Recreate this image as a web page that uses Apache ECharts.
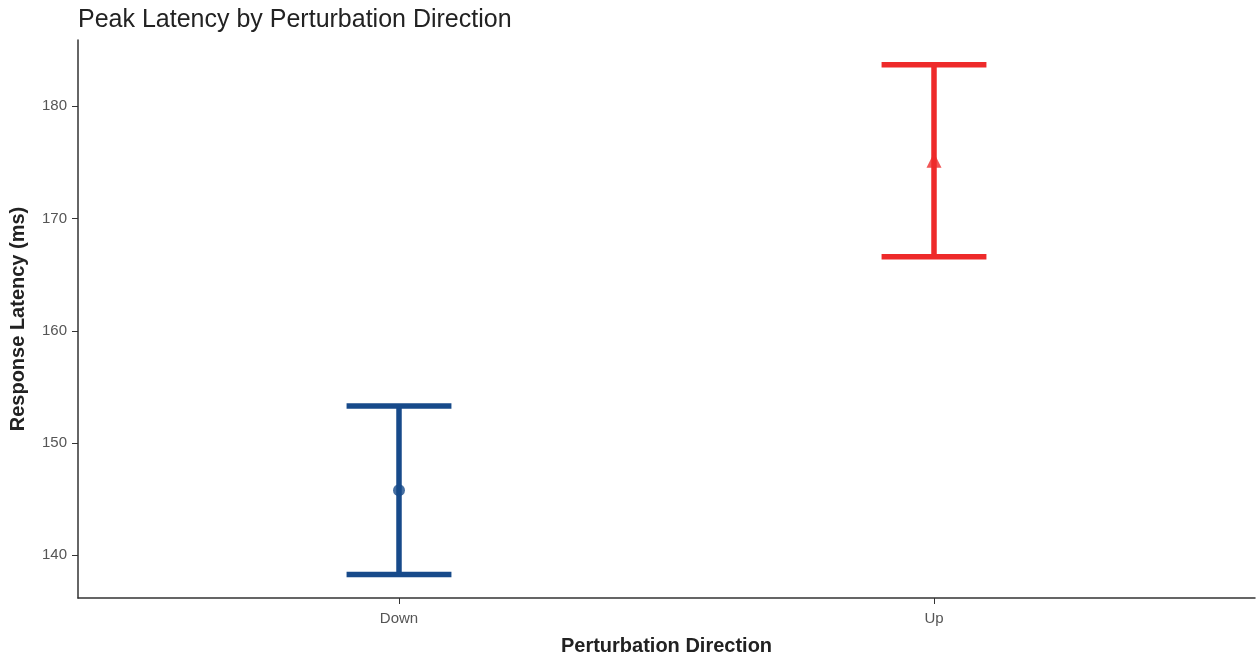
<!DOCTYPE html>
<html>
<head>
<meta charset="utf-8">
<script src="https://cdn.jsdelivr.net/npm/echarts@6/dist/echarts.min.js"></script>
<style>
  html, body { margin: 0; padding: 0; background: #fff; }
  #chart { width: 1258px; height: 659px; }
</style>
</head>
<body>
<div id="chart"></div>
<script>
// Peak response latency per perturbation direction: mean with error bar limits (ms)
const categories = ['Down', 'Up'];
const means = [145.8, 175.2];
const lowers = [138.3, 166.6];
const uppers = [153.3, 183.7];
const yTicks = [140, 150, 160, 170, 180];

const colors = ['#174A8A', '#EE2A2A'];
const markers = ['circle', 'triangle'];
const capHalf = 0.098; // cap half-width in x units

const rows = categories.map((c, i) => [i + 1, means[i], lowers[i], uppers[i], i]);

const chart = echarts.init(document.getElementById('chart'));
const font = 'Liberation Sans, Arial, sans-serif';

chart.setOption({
  animation: false,
  title: {
    text: 'Peak Latency by Perturbation Direction',
    left: 73,
    top: 3,
    textStyle: { fontFamily: font, fontSize: 25, fontWeight: 'normal', color: '#222' }
  },
  grid: { left: 78, right: 3, top: 40, bottom: 61, containLabel: false, outerBoundsMode: 'none' },
  xAxis: {
    type: 'value',
    min: 0.4,
    max: 2.6,
    name: 'Perturbation Direction',
    nameLocation: 'middle',
    nameGap: 38,
    nameTextStyle: { fontFamily: font, fontSize: 20, fontWeight: 'bold', color: '#222' },
    axisLine: { show: true, lineStyle: { color: '#333', width: 1.5 } },
    axisTick: { show: true, customValues: [1, 2], length: 6, lineStyle: { color: '#333' } },
    axisLabel: {
      customValues: [1, 2],
      formatter: v => categories[Math.round(v) - 1] || '',
      margin: 13,
      fontFamily: font,
      fontSize: 15,
      color: '#555'
    },
    splitLine: { show: false }
  },
  yAxis: {
    type: 'value',
    min: 136.2,
    max: 185.9,
    name: 'Response Latency (ms)',
    nameLocation: 'middle',
    nameGap: 50,
    nameTextStyle: { fontFamily: font, fontSize: 20, fontWeight: 'bold', color: '#222' },
    axisLine: { show: true, lineStyle: { color: '#333', width: 1.5 } },
    axisTick: { show: true, customValues: yTicks, length: 6, lineStyle: { color: '#333' } },
    axisLabel: {
      customValues: yTicks,
      margin: 11,
      fontFamily: font,
      fontSize: 15,
      color: '#555'
    },
    splitLine: { show: false }
  },
  series: [
    {
      type: 'custom',
      data: rows,
      encode: { x: 0, y: [1, 2, 3] },
      renderItem: function (params, api) {
        const x = api.value(0);
        const lo = api.value(2);
        const hi = api.value(3);
        const idx = api.value(4);
        const col = colors[idx];
        const pLo = api.coord([x, lo]);
        const pHi = api.coord([x, hi]);
        const loL = api.coord([x - capHalf, lo]);
        const loR = api.coord([x + capHalf, lo]);
        const hiL = api.coord([x - capHalf, hi]);
        const hiR = api.coord([x + capHalf, hi]);
        const style = { stroke: col, lineWidth: 5.5, fill: null };
        return {
          type: 'group',
          children: [
            { type: 'line', shape: { x1: pLo[0], y1: pLo[1], x2: pHi[0], y2: pHi[1] }, style: style },
            { type: 'line', shape: { x1: loL[0], y1: loL[1], x2: loR[0], y2: loR[1] }, style: style },
            { type: 'line', shape: { x1: hiL[0], y1: hiL[1], x2: hiR[0], y2: hiR[1] }, style: style }
          ]
        };
      },
      z: 2
    },
    {
      type: 'scatter',
      data: rows.map(r => ({
        value: [r[0], r[1]],
        symbol: markers[r[4]],
        symbolSize: r[4] === 0 ? 12 : 15,
        itemStyle: { color: colors[r[4]] }
      })),
      z: 3
    }
  ]
});
</script>
</body>
</html>
